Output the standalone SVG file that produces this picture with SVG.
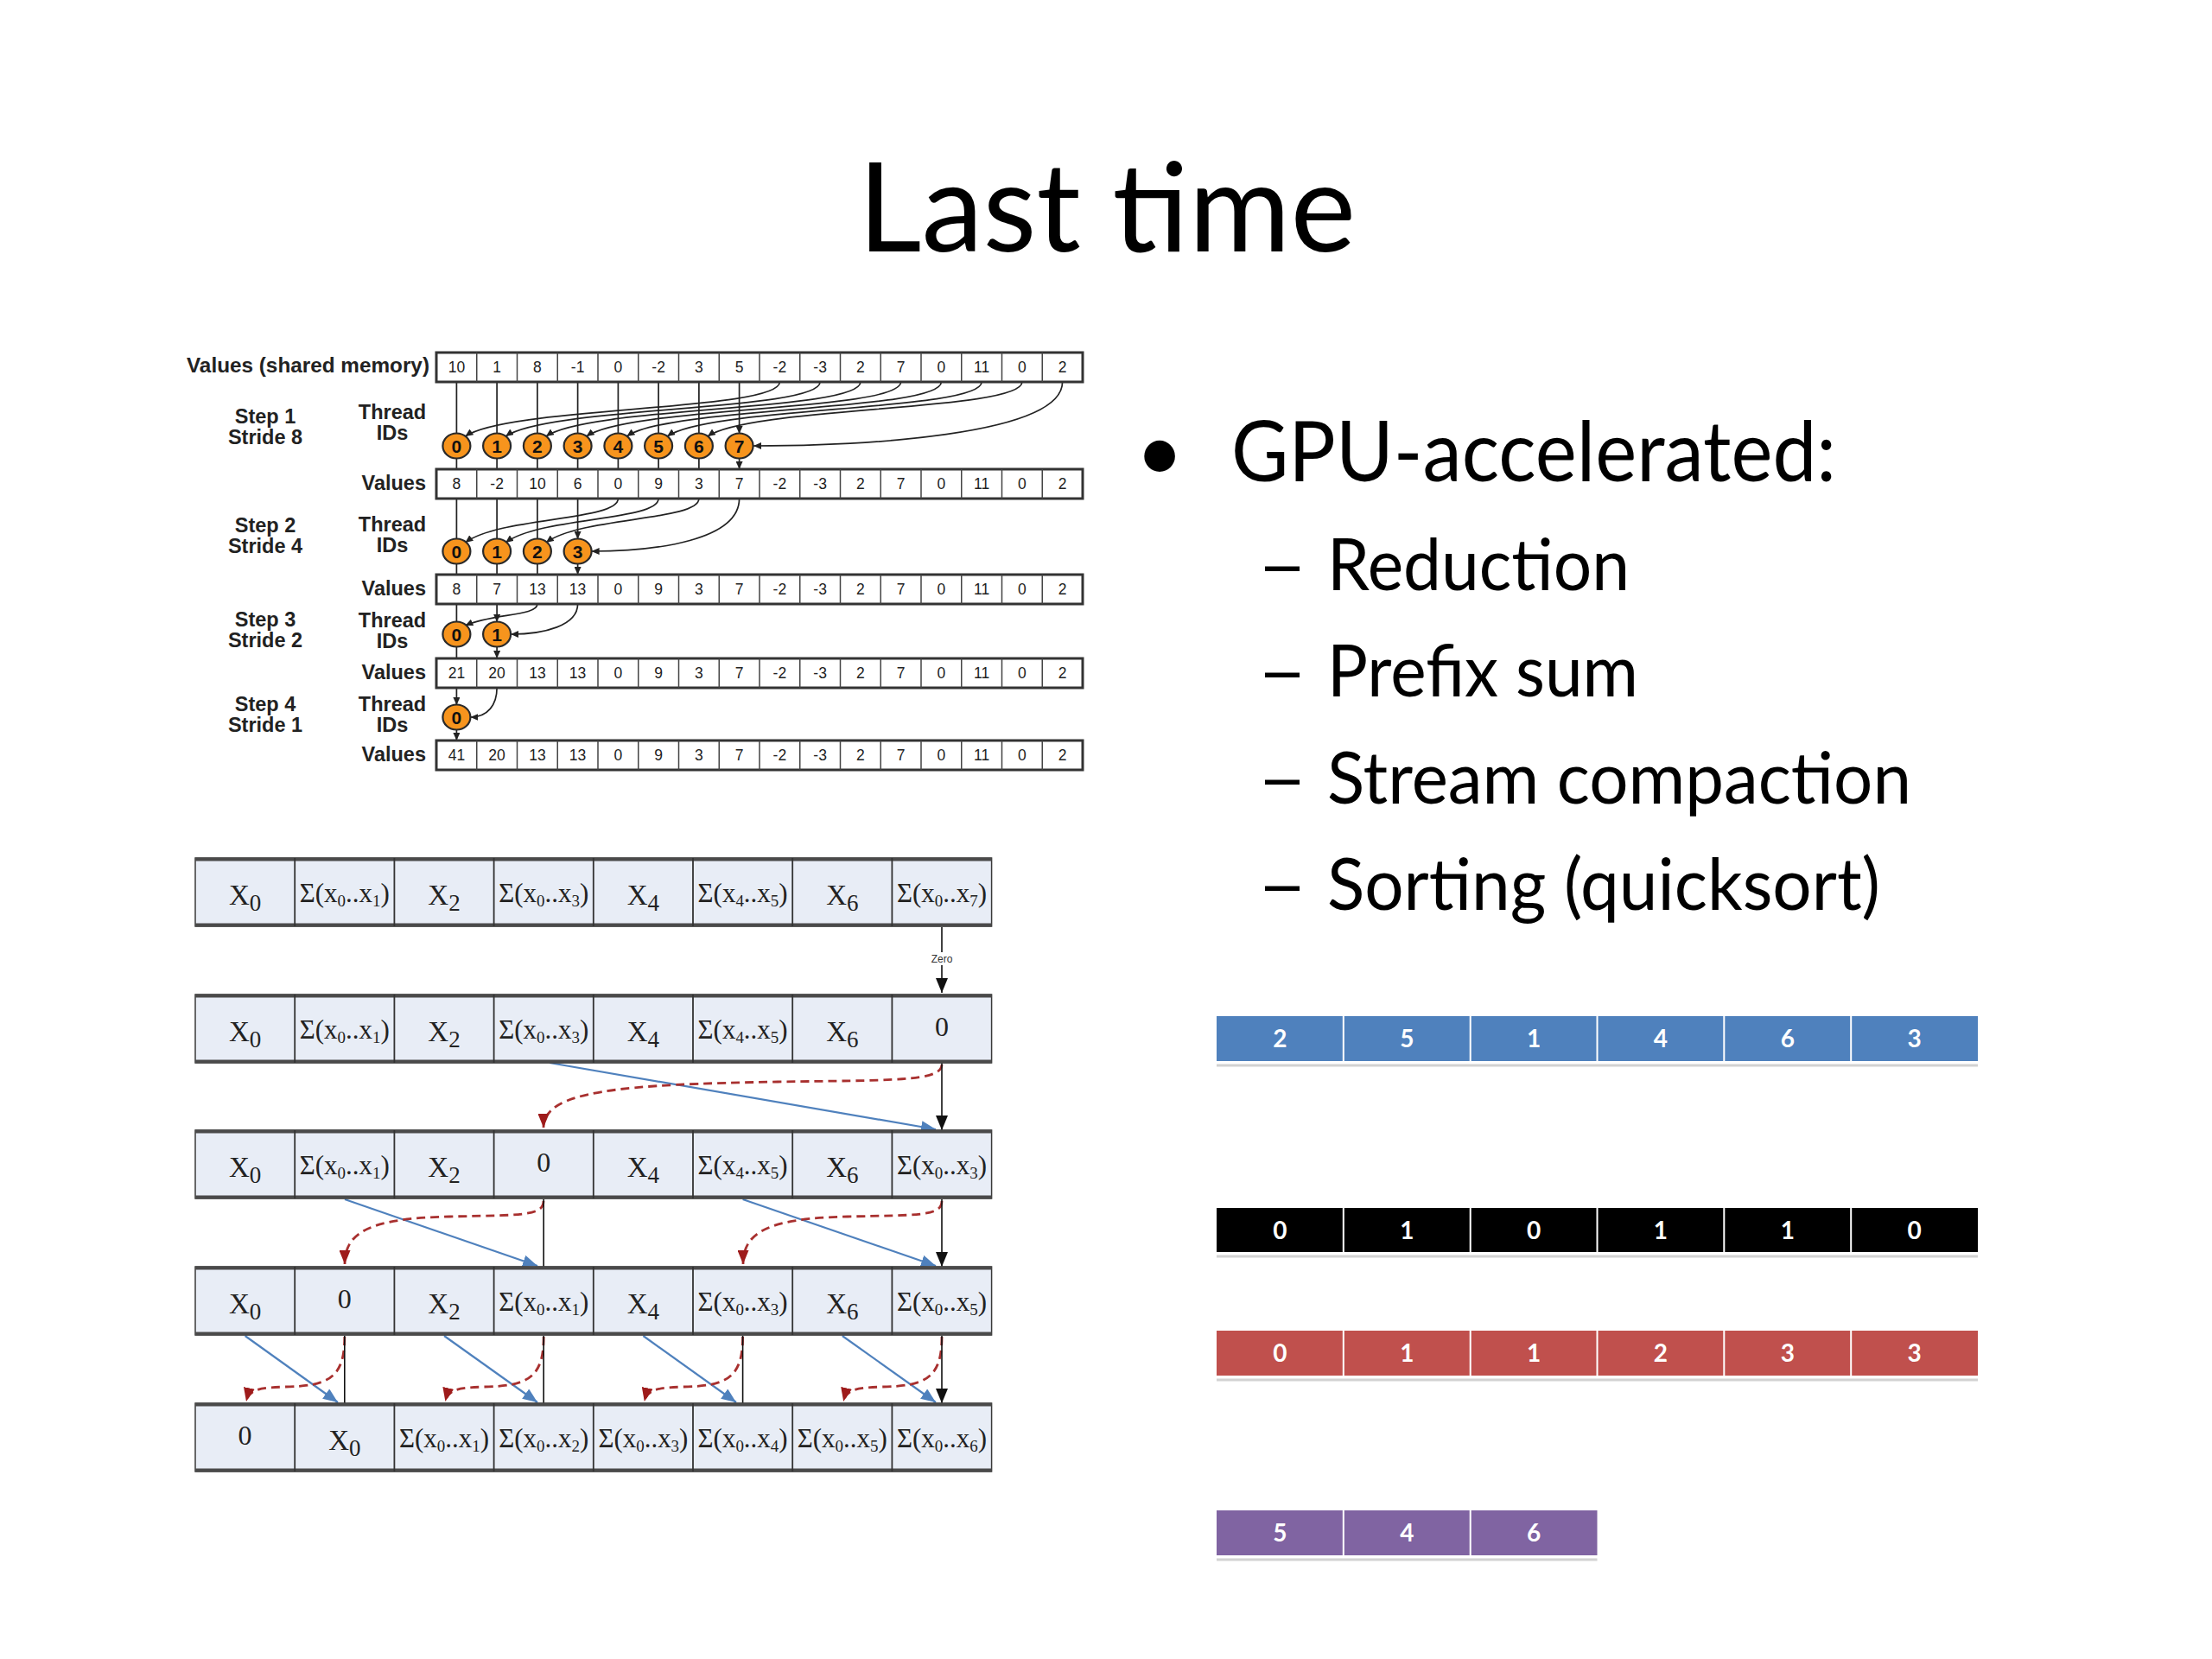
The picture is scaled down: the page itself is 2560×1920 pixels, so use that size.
<svg xmlns="http://www.w3.org/2000/svg" width="2560" height="1920" viewBox="0 0 2560 1920">
<style>
.ttl{font-family:Lato,"Open Sans",sans-serif;font-size:143px;fill:#000}
.b1{font-family:Lato,"Open Sans",sans-serif;font-size:96px;fill:#000}
.b2{font-family:Lato,"Open Sans",sans-serif;font-size:84px;fill:#000}
.lbc{font-family:"Liberation Sans",Arial,sans-serif;font-size:23.5px;font-weight:bold;fill:#222;text-anchor:middle}
.lbr{font-family:"Liberation Sans",Arial,sans-serif;font-size:23.5px;font-weight:bold;fill:#222;text-anchor:end}
.n{font-family:"Liberation Sans",Arial,sans-serif;font-size:17.5px;fill:#222;text-anchor:middle}
.cd{font-family:"Liberation Sans",Arial,sans-serif;font-size:21px;font-weight:bold;fill:#111;text-anchor:middle}
.circ{fill:#F7941D;stroke:#2A2A2A;stroke-width:2.2}
.ar{fill:none;stroke:#222;stroke-width:1.7}
.X{font-family:"Liberation Serif","Times New Roman",serif;font-size:33px;fill:#222;text-anchor:middle}
.xs{font-size:27px}
.S{font-family:"Liberation Serif","Times New Roman",serif;font-size:31px;fill:#222;text-anchor:middle}
.ss{font-size:19px}
.Z{font-family:"Liberation Serif","Times New Roman",serif;font-size:32px;fill:#222;text-anchor:middle}
.blk{fill:none;stroke:#111;stroke-width:1.6}
.blu{fill:none;stroke:#4F81BD;stroke-width:2.2}
.red{fill:none;stroke:#A8302F;stroke-width:2.8;stroke-dasharray:10 6}
.c{font-family:Lato,"Open Sans",sans-serif;font-size:28px;font-weight:bold;fill:#fff;text-anchor:middle}
.sep{stroke:#fff;stroke-width:2}
.shd{stroke:#D2D2D2;stroke-width:3}
</style>
<defs>
<marker id="ms" viewBox="0 0 9 8" refX="9" refY="4" markerWidth="9" markerHeight="8" markerUnits="userSpaceOnUse" orient="auto"><path d="M0,0L9,4L0,8z" fill="#222"/></marker>
<marker id="mk" viewBox="0 0 17 14" refX="17" refY="7" markerWidth="17" markerHeight="14" markerUnits="userSpaceOnUse" orient="auto"><path d="M0,0L17,7L0,14z" fill="#111"/></marker>
<marker id="mb" viewBox="0 0 17 14" refX="17" refY="7" markerWidth="17" markerHeight="14" markerUnits="userSpaceOnUse" orient="auto"><path d="M0,0L17,7L0,14z" fill="#4F81BD"/></marker>
<marker id="mr" viewBox="0 0 16 13" refX="16" refY="6.5" markerWidth="16" markerHeight="13" markerUnits="userSpaceOnUse" orient="auto"><path d="M0,0L16,6.5L0,13z" fill="#9E1B1B"/></marker>
<g id="g16">
<rect x="505" y="0" width="748" height="34" fill="#fff" stroke="#333" stroke-width="3"/>
<path d="M551.75 0V34M598.5 0V34M645.25 0V34M692 0V34M738.75 0V34M785.5 0V34M832.25 0V34M879 0V34M925.75 0V34M972.5 0V34M1019.25 0V34M1066 0V34M1112.75 0V34M1159.5 0V34M1206.25 0V34" stroke="#444" stroke-width="1.5"/>
</g>
<g id="r8">
<rect x="226" y="0" width="921.6" height="79" fill="#E8EDF6" stroke="#3A3A3A" stroke-width="1.5"/>
<path d="M226 1.5H1147.6M226 77.5H1147.6" stroke="#4A4A4A" stroke-width="4"/>
<path d="M341.2 0V79M456.4 0V79M571.6 0V79M686.8 0V79M802 0V79M917.2 0V79M1032.4 0V79" stroke="#333" stroke-width="1.8"/>
</g>
</defs>
<rect x="0" y="0" width="2560" height="1920" fill="#fff"/>

<g id="title"><text class="ttl" x="993" y="291" textLength="576" lengthAdjust="spacingAndGlyphs">Last time</text></g>

<g id="bullets">
<text class="b1" x="1342" y="557" text-anchor="middle">•</text>
<text class="b1" x="1425" y="557" textLength="700" lengthAdjust="spacingAndGlyphs">GPU-accelerated:</text>
<text class="b2" x="1484" y="683" text-anchor="middle" textLength="58" lengthAdjust="spacingAndGlyphs">–</text>
<text class="b2" x="1536" y="683" textLength="350" lengthAdjust="spacingAndGlyphs">Reduction</text>
<text class="b2" x="1484" y="806" text-anchor="middle" textLength="58" lengthAdjust="spacingAndGlyphs">–</text>
<text class="b2" x="1536" y="806" textLength="360" lengthAdjust="spacingAndGlyphs">Prefix sum</text>
<text class="b2" x="1484" y="930" text-anchor="middle" textLength="58" lengthAdjust="spacingAndGlyphs">–</text>
<text class="b2" x="1536" y="930" textLength="676" lengthAdjust="spacingAndGlyphs">Stream compaction</text>
<text class="b2" x="1484" y="1053" text-anchor="middle" textLength="58" lengthAdjust="spacingAndGlyphs">–</text>
<text class="b2" x="1536" y="1053" textLength="640" lengthAdjust="spacingAndGlyphs">Sorting (quicksort)</text>
</g>

<!-- Reduction diagram -->
<g id="red-labels">
<text class="lbr" x="497" y="431" textLength="281" lengthAdjust="spacingAndGlyphs">Values (shared memory)</text>
<text class="lbc" x="307" y="490">Step 1</text><text class="lbc" x="307" y="514">Stride 8</text>
<text class="lbc" x="454" y="485">Thread</text><text class="lbc" x="454" y="509">IDs</text>
<text class="lbr" x="493" y="567">Values</text>
<text class="lbc" x="307" y="616">Step 2</text><text class="lbc" x="307" y="640">Stride 4</text>
<text class="lbc" x="454" y="615">Thread</text><text class="lbc" x="454" y="639">IDs</text>
<text class="lbr" x="493" y="689">Values</text>
<text class="lbc" x="307" y="725">Step 3</text><text class="lbc" x="307" y="749">Stride 2</text>
<text class="lbc" x="454" y="726">Thread</text><text class="lbc" x="454" y="750">IDs</text>
<text class="lbr" x="493" y="786">Values</text>
<text class="lbc" x="307" y="823">Step 4</text><text class="lbc" x="307" y="847">Stride 1</text>
<text class="lbc" x="454" y="823">Thread</text><text class="lbc" x="454" y="847">IDs</text>
<text class="lbr" x="493" y="881">Values</text>
</g>

<g id="red-connectors">
<path class="ar" marker-end="url(#ms)" d="M528.4 442V502M575.1 442V502M621.9 442V502M668.6 442V502M715.4 442V502M762.1 442V502M808.9 442V502M855.6 442V502"/>
<path class="ar" marker-end="url(#ms)" d="M902.4 442C902.4 476 588.4 470 538.4 505"/>
<path class="ar" marker-end="url(#ms)" d="M949.1 442C949.1 476 635.1 470 585.1 505"/>
<path class="ar" marker-end="url(#ms)" d="M995.9 442C995.9 476 681.9 470 631.9 505"/>
<path class="ar" marker-end="url(#ms)" d="M1042.6 442C1042.6 476 728.6 470 678.6 505"/>
<path class="ar" marker-end="url(#ms)" d="M1089.4 442C1089.4 476 775.4 470 725.4 505"/>
<path class="ar" marker-end="url(#ms)" d="M1136.1 442C1136.1 476 822.1 470 772.1 505"/>
<path class="ar" marker-end="url(#ms)" d="M1182.9 442C1182.9 476 868.9 470 818.9 505"/>
<path class="ar" marker-end="url(#ms)" d="M1229.6 442C1229.6 505 990 516 872 516"/>
<path class="ar" marker-end="url(#ms)" d="M528.4 530V543M575.1 530V543M621.9 530V543M668.6 530V543M715.4 530V543M762.1 530V543M808.9 530V543M855.6 530V543"/>

<path class="ar" marker-end="url(#ms)" d="M528.4 577V624M575.1 577V624M621.9 577V624M668.6 577V624"/>
<path class="ar" marker-end="url(#ms)" d="M715.4 577C715.4 603 578.4 598 538.4 628"/>
<path class="ar" marker-end="url(#ms)" d="M762.1 577C762.1 603 625.1 598 585.1 628"/>
<path class="ar" marker-end="url(#ms)" d="M808.9 577C808.9 603 671.9 598 631.9 628"/>
<path class="ar" marker-end="url(#ms)" d="M855.6 577C855.6 625 760 638 684.6 638"/>
<path class="ar" marker-end="url(#ms)" d="M528.4 652V665M575.1 652V665M621.9 652V665M668.6 652V665"/>

<path class="ar" marker-end="url(#ms)" d="M528.4 699V720M575.1 699V720"/>
<path class="ar" marker-end="url(#ms)" d="M621.9 699C621.9 713 570 710 538.4 724"/>
<path class="ar" marker-end="url(#ms)" d="M668.6 699C668.6 724 630 734 591.1 734"/>
<path class="ar" marker-end="url(#ms)" d="M528.4 748V762M575.1 748V762"/>

<path class="ar" marker-end="url(#ms)" d="M528.4 796V816"/>
<path class="ar" marker-end="url(#ms)" d="M575.1 796C575.1 815 565 830 544.4 830"/>
<path class="ar" marker-end="url(#ms)" d="M528.4 844V857"/>
</g>

<g id="row0">
<use href="#g16" y="408"/>
<text class="n" x="528.4" y="431">10</text><text class="n" x="575.1" y="431">1</text><text class="n" x="621.9" y="431">8</text><text class="n" x="668.6" y="431">-1</text><text class="n" x="715.4" y="431">0</text><text class="n" x="762.1" y="431">-2</text><text class="n" x="808.9" y="431">3</text><text class="n" x="855.6" y="431">5</text><text class="n" x="902.4" y="431">-2</text><text class="n" x="949.1" y="431">-3</text><text class="n" x="995.9" y="431">2</text><text class="n" x="1042.6" y="431">7</text><text class="n" x="1089.4" y="431">0</text><text class="n" x="1136.1" y="431">11</text><text class="n" x="1182.9" y="431">0</text><text class="n" x="1229.6" y="431">2</text>
</g>
<g id="row1">
<use href="#g16" y="543"/>
<text class="n" x="528.4" y="566">8</text><text class="n" x="575.1" y="566">-2</text><text class="n" x="621.9" y="566">10</text><text class="n" x="668.6" y="566">6</text><text class="n" x="715.4" y="566">0</text><text class="n" x="762.1" y="566">9</text><text class="n" x="808.9" y="566">3</text><text class="n" x="855.6" y="566">7</text><text class="n" x="902.4" y="566">-2</text><text class="n" x="949.1" y="566">-3</text><text class="n" x="995.9" y="566">2</text><text class="n" x="1042.6" y="566">7</text><text class="n" x="1089.4" y="566">0</text><text class="n" x="1136.1" y="566">11</text><text class="n" x="1182.9" y="566">0</text><text class="n" x="1229.6" y="566">2</text>
</g>
<g id="row2">
<use href="#g16" y="665"/>
<text class="n" x="528.4" y="688">8</text><text class="n" x="575.1" y="688">7</text><text class="n" x="621.9" y="688">13</text><text class="n" x="668.6" y="688">13</text><text class="n" x="715.4" y="688">0</text><text class="n" x="762.1" y="688">9</text><text class="n" x="808.9" y="688">3</text><text class="n" x="855.6" y="688">7</text><text class="n" x="902.4" y="688">-2</text><text class="n" x="949.1" y="688">-3</text><text class="n" x="995.9" y="688">2</text><text class="n" x="1042.6" y="688">7</text><text class="n" x="1089.4" y="688">0</text><text class="n" x="1136.1" y="688">11</text><text class="n" x="1182.9" y="688">0</text><text class="n" x="1229.6" y="688">2</text>
</g>
<g id="row3">
<use href="#g16" y="762"/>
<text class="n" x="528.4" y="785">21</text><text class="n" x="575.1" y="785">20</text><text class="n" x="621.9" y="785">13</text><text class="n" x="668.6" y="785">13</text><text class="n" x="715.4" y="785">0</text><text class="n" x="762.1" y="785">9</text><text class="n" x="808.9" y="785">3</text><text class="n" x="855.6" y="785">7</text><text class="n" x="902.4" y="785">-2</text><text class="n" x="949.1" y="785">-3</text><text class="n" x="995.9" y="785">2</text><text class="n" x="1042.6" y="785">7</text><text class="n" x="1089.4" y="785">0</text><text class="n" x="1136.1" y="785">11</text><text class="n" x="1182.9" y="785">0</text><text class="n" x="1229.6" y="785">2</text>
</g>
<g id="row4">
<use href="#g16" y="857"/>
<text class="n" x="528.4" y="880">41</text><text class="n" x="575.1" y="880">20</text><text class="n" x="621.9" y="880">13</text><text class="n" x="668.6" y="880">13</text><text class="n" x="715.4" y="880">0</text><text class="n" x="762.1" y="880">9</text><text class="n" x="808.9" y="880">3</text><text class="n" x="855.6" y="880">7</text><text class="n" x="902.4" y="880">-2</text><text class="n" x="949.1" y="880">-3</text><text class="n" x="995.9" y="880">2</text><text class="n" x="1042.6" y="880">7</text><text class="n" x="1089.4" y="880">0</text><text class="n" x="1136.1" y="880">11</text><text class="n" x="1182.9" y="880">0</text><text class="n" x="1229.6" y="880">2</text>
</g>

<g id="threads-step1">
<ellipse class="circ" cx="528.4" cy="516" rx="16" ry="14.5"/><text class="cd" x="528.4" y="523.5">0</text>
<ellipse class="circ" cx="575.1" cy="516" rx="16" ry="14.5"/><text class="cd" x="575.1" y="523.5">1</text>
<ellipse class="circ" cx="621.9" cy="516" rx="16" ry="14.5"/><text class="cd" x="621.9" y="523.5">2</text>
<ellipse class="circ" cx="668.6" cy="516" rx="16" ry="14.5"/><text class="cd" x="668.6" y="523.5">3</text>
<ellipse class="circ" cx="715.4" cy="516" rx="16" ry="14.5"/><text class="cd" x="715.4" y="523.5">4</text>
<ellipse class="circ" cx="762.1" cy="516" rx="16" ry="14.5"/><text class="cd" x="762.1" y="523.5">5</text>
<ellipse class="circ" cx="808.9" cy="516" rx="16" ry="14.5"/><text class="cd" x="808.9" y="523.5">6</text>
<ellipse class="circ" cx="855.6" cy="516" rx="16" ry="14.5"/><text class="cd" x="855.6" y="523.5">7</text>
</g>
<g id="threads-step2">
<ellipse class="circ" cx="528.4" cy="638" rx="16" ry="14.5"/><text class="cd" x="528.4" y="645.5">0</text>
<ellipse class="circ" cx="575.1" cy="638" rx="16" ry="14.5"/><text class="cd" x="575.1" y="645.5">1</text>
<ellipse class="circ" cx="621.9" cy="638" rx="16" ry="14.5"/><text class="cd" x="621.9" y="645.5">2</text>
<ellipse class="circ" cx="668.6" cy="638" rx="16" ry="14.5"/><text class="cd" x="668.6" y="645.5">3</text>
</g>
<g id="threads-step3">
<ellipse class="circ" cx="528.4" cy="734" rx="16" ry="14.5"/><text class="cd" x="528.4" y="741.5">0</text>
<ellipse class="circ" cx="575.1" cy="734" rx="16" ry="14.5"/><text class="cd" x="575.1" y="741.5">1</text>
</g>
<g id="threads-step4">
<ellipse class="circ" cx="528.4" cy="830" rx="16" ry="14.5"/><text class="cd" x="528.4" y="837.5">0</text>
</g>

<!-- Scan diagram -->
<g id="scan-connectors">
<path class="blk" marker-end="url(#mk)" d="M1090 1073V1149"/>
<rect x="1074" y="1102" width="32" height="15" fill="#fff"/>
<text x="1090" y="1114" font-family="'Liberation Sans',sans-serif" font-size="12" text-anchor="middle" fill="#333">Zero</text>

<path class="blu" marker-end="url(#mb)" d="M636 1230L1083 1307"/>
<path class="red" marker-end="url(#mr)" d="M1090 1232C1090 1252 1030 1250 900 1252C720 1255 629 1262 629 1305"/>
<path class="blk" marker-end="url(#mk)" d="M1090 1230V1308"/>

<path class="blu" marker-end="url(#mb)" d="M399 1388L622 1465"/>
<path class="blu" marker-end="url(#mb)" d="M859.6 1388L1083 1465"/>
<path class="red" marker-end="url(#mr)" d="M629 1390C629 1408 600 1406 520 1408C430 1410 399 1425 399 1463"/>
<path class="red" marker-end="url(#mr)" d="M1090 1390C1090 1408 1061 1406 981 1408C891 1410 860 1425 860 1463"/>
<path class="blk" marker-end="url(#mk)" d="M629.2 1388V1466M1090 1388V1466"/>

<path class="blu" marker-end="url(#mb)" d="M283.6 1546L391 1623"/>
<path class="blu" marker-end="url(#mb)" d="M514 1546L622 1623"/>
<path class="blu" marker-end="url(#mb)" d="M744.4 1546L852 1623"/>
<path class="blu" marker-end="url(#mb)" d="M974.8 1546L1083 1623"/>
<path class="red" marker-end="url(#mr)" d="M398.8 1547C398.8 1595 380 1604 330 1605C300 1606 288 1608 285 1622"/>
<path class="red" marker-end="url(#mr)" d="M629.2 1547C629.2 1595 610.4 1604 560.4 1605C530.4 1606 518.4 1608 515.4 1622"/>
<path class="red" marker-end="url(#mr)" d="M859.6 1547C859.6 1595 840.8 1604 790.8 1605C760.8 1606 748.8 1608 745.8 1622"/>
<path class="red" marker-end="url(#mr)" d="M1090 1547C1090 1595 1071.2 1604 1021.2 1605C991.2 1606 979.2 1608 976.2 1622"/>
<path class="blk" marker-end="url(#mk)" d="M398.8 1546V1624M629.2 1546V1624M859.6 1546V1624M1090 1546V1624"/>
</g>

<g id="scanA">
<use href="#r8" y="993"/>
<text class="X" x="283.6" y="1047">X<tspan class="xs" dy="7">0</tspan></text>
<text class="S" x="398.8" y="1044" textLength="104" lengthAdjust="spacingAndGlyphs">Σ(x<tspan class="ss" dy="5">0</tspan><tspan dy="-5">..x</tspan><tspan class="ss" dy="5">1</tspan><tspan dy="-5">)</tspan></text>
<text class="X" x="514" y="1047">X<tspan class="xs" dy="7">2</tspan></text>
<text class="S" x="629.2" y="1044" textLength="104" lengthAdjust="spacingAndGlyphs">Σ(x<tspan class="ss" dy="5">0</tspan><tspan dy="-5">..x</tspan><tspan class="ss" dy="5">3</tspan><tspan dy="-5">)</tspan></text>
<text class="X" x="744.4" y="1047">X<tspan class="xs" dy="7">4</tspan></text>
<text class="S" x="859.6" y="1044" textLength="104" lengthAdjust="spacingAndGlyphs">Σ(x<tspan class="ss" dy="5">4</tspan><tspan dy="-5">..x</tspan><tspan class="ss" dy="5">5</tspan><tspan dy="-5">)</tspan></text>
<text class="X" x="974.8" y="1047">X<tspan class="xs" dy="7">6</tspan></text>
<text class="S" x="1090" y="1044" textLength="104" lengthAdjust="spacingAndGlyphs">Σ(x<tspan class="ss" dy="5">0</tspan><tspan dy="-5">..x</tspan><tspan class="ss" dy="5">7</tspan><tspan dy="-5">)</tspan></text>
</g>
<g id="scanB">
<use href="#r8" y="1151"/>
<text class="X" x="283.6" y="1205">X<tspan class="xs" dy="7">0</tspan></text>
<text class="S" x="398.8" y="1202" textLength="104" lengthAdjust="spacingAndGlyphs">Σ(x<tspan class="ss" dy="5">0</tspan><tspan dy="-5">..x</tspan><tspan class="ss" dy="5">1</tspan><tspan dy="-5">)</tspan></text>
<text class="X" x="514" y="1205">X<tspan class="xs" dy="7">2</tspan></text>
<text class="S" x="629.2" y="1202" textLength="104" lengthAdjust="spacingAndGlyphs">Σ(x<tspan class="ss" dy="5">0</tspan><tspan dy="-5">..x</tspan><tspan class="ss" dy="5">3</tspan><tspan dy="-5">)</tspan></text>
<text class="X" x="744.4" y="1205">X<tspan class="xs" dy="7">4</tspan></text>
<text class="S" x="859.6" y="1202" textLength="104" lengthAdjust="spacingAndGlyphs">Σ(x<tspan class="ss" dy="5">4</tspan><tspan dy="-5">..x</tspan><tspan class="ss" dy="5">5</tspan><tspan dy="-5">)</tspan></text>
<text class="X" x="974.8" y="1205">X<tspan class="xs" dy="7">6</tspan></text>
<text class="Z" x="1090" y="1199">0</text>
</g>
<g id="scanC">
<use href="#r8" y="1308"/>
<text class="X" x="283.6" y="1362">X<tspan class="xs" dy="7">0</tspan></text>
<text class="S" x="398.8" y="1359" textLength="104" lengthAdjust="spacingAndGlyphs">Σ(x<tspan class="ss" dy="5">0</tspan><tspan dy="-5">..x</tspan><tspan class="ss" dy="5">1</tspan><tspan dy="-5">)</tspan></text>
<text class="X" x="514" y="1362">X<tspan class="xs" dy="7">2</tspan></text>
<text class="Z" x="629.2" y="1356">0</text>
<text class="X" x="744.4" y="1362">X<tspan class="xs" dy="7">4</tspan></text>
<text class="S" x="859.6" y="1359" textLength="104" lengthAdjust="spacingAndGlyphs">Σ(x<tspan class="ss" dy="5">4</tspan><tspan dy="-5">..x</tspan><tspan class="ss" dy="5">5</tspan><tspan dy="-5">)</tspan></text>
<text class="X" x="974.8" y="1362">X<tspan class="xs" dy="7">6</tspan></text>
<text class="S" x="1090" y="1359" textLength="104" lengthAdjust="spacingAndGlyphs">Σ(x<tspan class="ss" dy="5">0</tspan><tspan dy="-5">..x</tspan><tspan class="ss" dy="5">3</tspan><tspan dy="-5">)</tspan></text>
</g>
<g id="scanD">
<use href="#r8" y="1466"/>
<text class="X" x="283.6" y="1520">X<tspan class="xs" dy="7">0</tspan></text>
<text class="Z" x="398.8" y="1514">0</text>
<text class="X" x="514" y="1520">X<tspan class="xs" dy="7">2</tspan></text>
<text class="S" x="629.2" y="1517" textLength="104" lengthAdjust="spacingAndGlyphs">Σ(x<tspan class="ss" dy="5">0</tspan><tspan dy="-5">..x</tspan><tspan class="ss" dy="5">1</tspan><tspan dy="-5">)</tspan></text>
<text class="X" x="744.4" y="1520">X<tspan class="xs" dy="7">4</tspan></text>
<text class="S" x="859.6" y="1517" textLength="104" lengthAdjust="spacingAndGlyphs">Σ(x<tspan class="ss" dy="5">0</tspan><tspan dy="-5">..x</tspan><tspan class="ss" dy="5">3</tspan><tspan dy="-5">)</tspan></text>
<text class="X" x="974.8" y="1520">X<tspan class="xs" dy="7">6</tspan></text>
<text class="S" x="1090" y="1517" textLength="104" lengthAdjust="spacingAndGlyphs">Σ(x<tspan class="ss" dy="5">0</tspan><tspan dy="-5">..x</tspan><tspan class="ss" dy="5">5</tspan><tspan dy="-5">)</tspan></text>
</g>
<g id="scanE">
<use href="#r8" y="1624"/>
<text class="Z" x="283.6" y="1672">0</text>
<text class="X" x="398.8" y="1678">X<tspan class="xs" dy="7">0</tspan></text>
<text class="S" x="514" y="1675" textLength="104" lengthAdjust="spacingAndGlyphs">Σ(x<tspan class="ss" dy="5">0</tspan><tspan dy="-5">..x</tspan><tspan class="ss" dy="5">1</tspan><tspan dy="-5">)</tspan></text>
<text class="S" x="629.2" y="1675" textLength="104" lengthAdjust="spacingAndGlyphs">Σ(x<tspan class="ss" dy="5">0</tspan><tspan dy="-5">..x</tspan><tspan class="ss" dy="5">2</tspan><tspan dy="-5">)</tspan></text>
<text class="S" x="744.4" y="1675" textLength="104" lengthAdjust="spacingAndGlyphs">Σ(x<tspan class="ss" dy="5">0</tspan><tspan dy="-5">..x</tspan><tspan class="ss" dy="5">3</tspan><tspan dy="-5">)</tspan></text>
<text class="S" x="859.6" y="1675" textLength="104" lengthAdjust="spacingAndGlyphs">Σ(x<tspan class="ss" dy="5">0</tspan><tspan dy="-5">..x</tspan><tspan class="ss" dy="5">4</tspan><tspan dy="-5">)</tspan></text>
<text class="S" x="974.8" y="1675" textLength="104" lengthAdjust="spacingAndGlyphs">Σ(x<tspan class="ss" dy="5">0</tspan><tspan dy="-5">..x</tspan><tspan class="ss" dy="5">5</tspan><tspan dy="-5">)</tspan></text>
<text class="S" x="1090" y="1675" textLength="104" lengthAdjust="spacingAndGlyphs">Σ(x<tspan class="ss" dy="5">0</tspan><tspan dy="-5">..x</tspan><tspan class="ss" dy="5">6</tspan><tspan dy="-5">)</tspan></text>
</g>

<!-- Stream compaction -->
<g id="input">
<rect x="1408" y="1176" width="881" height="52" fill="#4F81BD"/>
<path class="sep" d="M1554.8 1176V1228M1701.7 1176V1228M1848.5 1176V1228M1995.3 1176V1228M2142.2 1176V1228"/>
<path class="shd" d="M1408 1233H2289"/>
<text class="c" x="1481.4" y="1212">2</text><text class="c" x="1628.3" y="1212">5</text><text class="c" x="1775.1" y="1212">1</text><text class="c" x="1921.9" y="1212">4</text><text class="c" x="2068.8" y="1212">6</text><text class="c" x="2215.6" y="1212">3</text>
</g>
<g id="flags">
<rect x="1408" y="1398" width="881" height="51" fill="#000"/>
<path class="sep" d="M1554.8 1398V1449M1701.7 1398V1449M1848.5 1398V1449M1995.3 1398V1449M2142.2 1398V1449"/>
<path class="shd" d="M1408 1454H2289"/>
<text class="c" x="1481.4" y="1434">0</text><text class="c" x="1628.3" y="1434">1</text><text class="c" x="1775.1" y="1434">0</text><text class="c" x="1921.9" y="1434">1</text><text class="c" x="2068.8" y="1434">1</text><text class="c" x="2215.6" y="1434">0</text>
</g>
<g id="scan">
<rect x="1408" y="1540" width="881" height="52" fill="#C0504D"/>
<path class="sep" d="M1554.8 1540V1592M1701.7 1540V1592M1848.5 1540V1592M1995.3 1540V1592M2142.2 1540V1592"/>
<path class="shd" d="M1408 1597H2289"/>
<text class="c" x="1481.4" y="1576">0</text><text class="c" x="1628.3" y="1576">1</text><text class="c" x="1775.1" y="1576">1</text><text class="c" x="1921.9" y="1576">2</text><text class="c" x="2068.8" y="1576">3</text><text class="c" x="2215.6" y="1576">3</text>
</g>
<g id="output">
<rect x="1408" y="1748" width="440.5" height="52" fill="#8064A2"/>
<path class="sep" d="M1554.8 1748V1800M1701.7 1748V1800"/>
<path class="shd" d="M1408 1805H1848.5"/>
<text class="c" x="1481.4" y="1784">5</text><text class="c" x="1628.3" y="1784">4</text><text class="c" x="1775.1" y="1784">6</text>
</g>
</svg>
